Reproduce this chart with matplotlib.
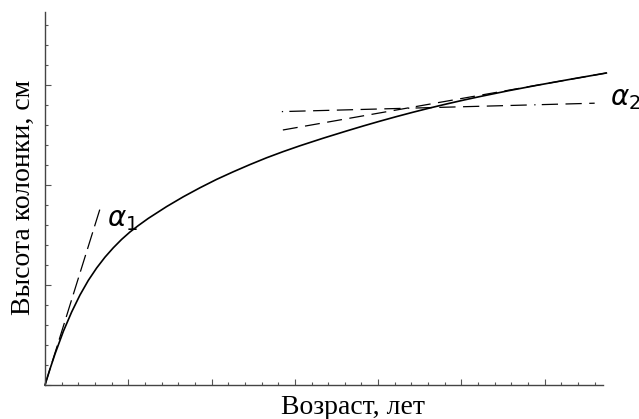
import numpy as np
import matplotlib
matplotlib.use("Agg")
from matplotlib import pyplot as plt
from matplotlib.ticker import MultipleLocator, NullFormatter

# рост колонки по возрасту (условные единицы)
age = [0, 0.3, 0.6, 1.1, 1.6, 2.1, 2.6, 3.1, 3.6, 4.1, 4.6, 5.1, 5.6, 6.2,
       7.3, 8.3, 9.3, 10.3, 11.3, 12.3, 13.3, 14.3, 15.3, 16.7, 18.1, 19.1,
       20.1, 21.1, 22.1, 23.1, 24.1, 25.1, 26.1, 27.8, 29.5, 31.5, 33.7]
height = [0, 0.80, 1.55, 2.68, 3.65, 4.50, 5.23, 5.85, 6.39, 6.86, 7.28,
          7.65, 7.97, 8.33, 8.92, 9.41, 9.86, 10.28, 10.66, 11.02, 11.36,
          11.67, 11.96, 12.34, 12.70, 12.95, 13.19, 13.42, 13.64, 13.85,
          14.05, 14.24, 14.42, 14.71, 14.98, 15.28, 15.60]

# касательные: в начале, в конце и почти горизонтальная
tan1_x = [0, 3.3]
tan1_y = [0, 8.8]
tan2_x = [14.28, 33.7]
tan2_y = [12.75, 15.6]
flat_x = [14.22, 33.0]
flat_y = [13.67, 14.09]

fig = plt.figure(figsize=(6.39, 4.19), dpi=100)
ax = fig.add_axes([45/639, 1 - 385/419, (603 - 45)/639, (385 - 12)/419])

ax.plot(age, height, color="black", lw=1.2, clip_on=False)
ax.plot(tan1_x, tan1_y, color="black", lw=0.9, linestyle=(0, (14, 5)))
ax.plot(tan2_x, tan2_y, color="black", lw=0.9, linestyle=(0, (12, 6)), clip_on=False)
ax.plot(flat_x, flat_y, color="black", lw=0.9,
        linestyle=(0, (1, 5, 13, 6, 13, 6, 13, 6, 13, 6, 13, 6)))

ax.text(3.72, 7.95, r"$\alpha_1$", fontsize=20, ha="left", va="baseline")
ax.text(33.9, 14.0, r"$\alpha_2$", fontsize=20, ha="left", va="baseline")

ax.set_xlim(0, 33.5)
ax.set_ylim(0, 18.65)
for s in ["top", "right"]:
    ax.spines[s].set_visible(False)
for s in ["left", "bottom"]:
    ax.spines[s].set_color("#444444")
    ax.spines[s].set_linewidth(1.0)

ax.xaxis.set_major_locator(MultipleLocator(5))
ax.xaxis.set_minor_locator(MultipleLocator(1))
ax.yaxis.set_major_locator(MultipleLocator(5))
ax.yaxis.set_minor_locator(MultipleLocator(1))
ax.xaxis.set_major_formatter(NullFormatter())
ax.yaxis.set_major_formatter(NullFormatter())
ax.tick_params(which="both", direction="in", color="#555555", width=0.8)
ax.tick_params(which="major", length=4)
ax.tick_params(which="minor", length=2.5)

fig.text(23/639, 0.529, "Высота колонки, см", rotation=90, ha="center",
         va="center", fontsize=20, family="Liberation Serif")
fig.text(353/639, 5/419, "Возраст, лет", ha="center", va="baseline",
         fontsize=20, family="Liberation Serif")

fig.savefig("out.png", dpi=100)
